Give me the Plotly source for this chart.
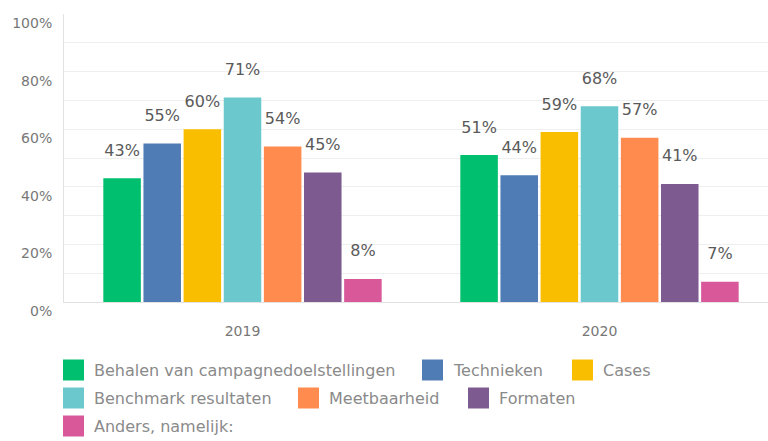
import plotly.graph_objects as go

# Survey results per year (percent of respondents)
years = ["2019", "2020"]
series_names = [
    "Behalen van campagnedoelstellingen",
    "Technieken",
    "Cases",
    "Benchmark resultaten",
    "Meetbaarheid",
    "Formaten",
    "Anders, namelijk:",
]
behalen = [43, 51]
technieken = [55, 44]
cases = [60, 59]
benchmark = [71, 68]
meetbaarheid = [54, 57]
formaten = [45, 41]
anders = [8, 7]
series_values = [behalen, technieken, cases, benchmark, meetbaarheid, formaten, anders]

y_tick_values = [0, 20, 40, 60, 80, 100]
y_tick_labels = ["0%", "20%", "40%", "60%", "80%", "100%"]

colors = ["#00BF6F", "#507CB6", "#F9BE00", "#6BC8CD", "#FF8B4F", "#7D5B91", "#D9589A"]

FONT = "DejaVu Sans"
W, H = 768, 441
M_L, M_R, M_T, M_B = 64, 0, 14, 139
PLOT_W = W - M_L - M_R
PLOT_H = H - M_T - M_B
BARGAP = 0.213


def px_x(px):
    return (px - M_L) / PLOT_W


def px_y(py):
    return (H - M_B - py) / PLOT_H


fig = go.Figure()
for name, vals, col in zip(series_names, series_values, colors):
    fig.add_trace(go.Bar(
        x=years,
        y=vals,
        name=name,
        marker=dict(color=col, line=dict(width=0)),
        showlegend=False,
        hoverinfo="x+y+name",
    ))

# Value labels: grouped text points sitting above each bar; a transparent
# marker gives the gap between bar top and label
for name, vals in zip(series_names, series_values):
    fig.add_trace(go.Scatter(
        x=years,
        y=vals,
        mode="markers+text",
        marker=dict(size=28, color="rgba(0,0,0,0)"),
        text=[f"{v}%" for v in vals],
        textposition="top center",
        textfont=dict(family=FONT, size=16, color="#5a5a5a"),
        cliponaxis=False,
        showlegend=False,
        hoverinfo="skip",
    ))

# Legend drawn as swatches + labels below the plot
legend_rows = [
    [(0, 63), (1, 422), (2, 572)],
    [(3, 63), (4, 298), (5, 468)],
    [(6, 63)],
]
row_centers = [370, 398, 426]
SW = 21
shapes = []
annotations = []
for row, cy in zip(legend_rows, row_centers):
    for idx, left in row:
        shapes.append(dict(
            type="rect", xref="paper", yref="paper",
            x0=px_x(left), x1=px_x(left + SW),
            y0=px_y(cy + SW / 2), y1=px_y(cy - SW / 2),
            fillcolor=colors[idx], line=dict(width=0),
        ))
        annotations.append(dict(
            xref="paper", yref="paper",
            x=px_x(left + 29), y=px_y(cy),
            xanchor="left", yanchor="middle",
            text=series_names[idx], showarrow=False,
            font=dict(family=FONT, size=16, color="#8a8a8a"),
        ))

fig.update_layout(
    width=W, height=H,
    margin=dict(l=M_L, r=M_R, t=M_T, b=M_B),
    paper_bgcolor="white",
    plot_bgcolor="white",
    barmode="group",
    bargap=BARGAP,
    bargroupgap=0.065,
    scattermode="group",
    scattergap=BARGAP,
    font=dict(family=FONT),
    shapes=shapes,
    annotations=annotations,
    xaxis=dict(
        type="category",
        range=[-0.5, 1.472],
        showgrid=False,
        showline=True,
        linecolor="#e2e2e2",
        linewidth=1,
        ticks="",
        tickfont=dict(family=FONT, size=14, color="#777777"),
        ticklabelstandoff=16,
        zeroline=False,
    ),
    yaxis=dict(
        range=[0, 100],
        tickvals=y_tick_values,
        ticktext=y_tick_labels,
        showgrid=True,
        gridcolor="#efefef",
        gridwidth=1,
        minor=dict(dtick=10, showgrid=True, gridcolor="#efefef", gridwidth=1),
        showline=True,
        linecolor="#e2e2e2",
        linewidth=1,
        zeroline=False,
        ticks="",
        tickfont=dict(family=FONT, size=14, color="#777777"),
        ticklabelstandoff=8,
        ticklabelshift=9,
    ),
)

fig.write_html("out.html")
